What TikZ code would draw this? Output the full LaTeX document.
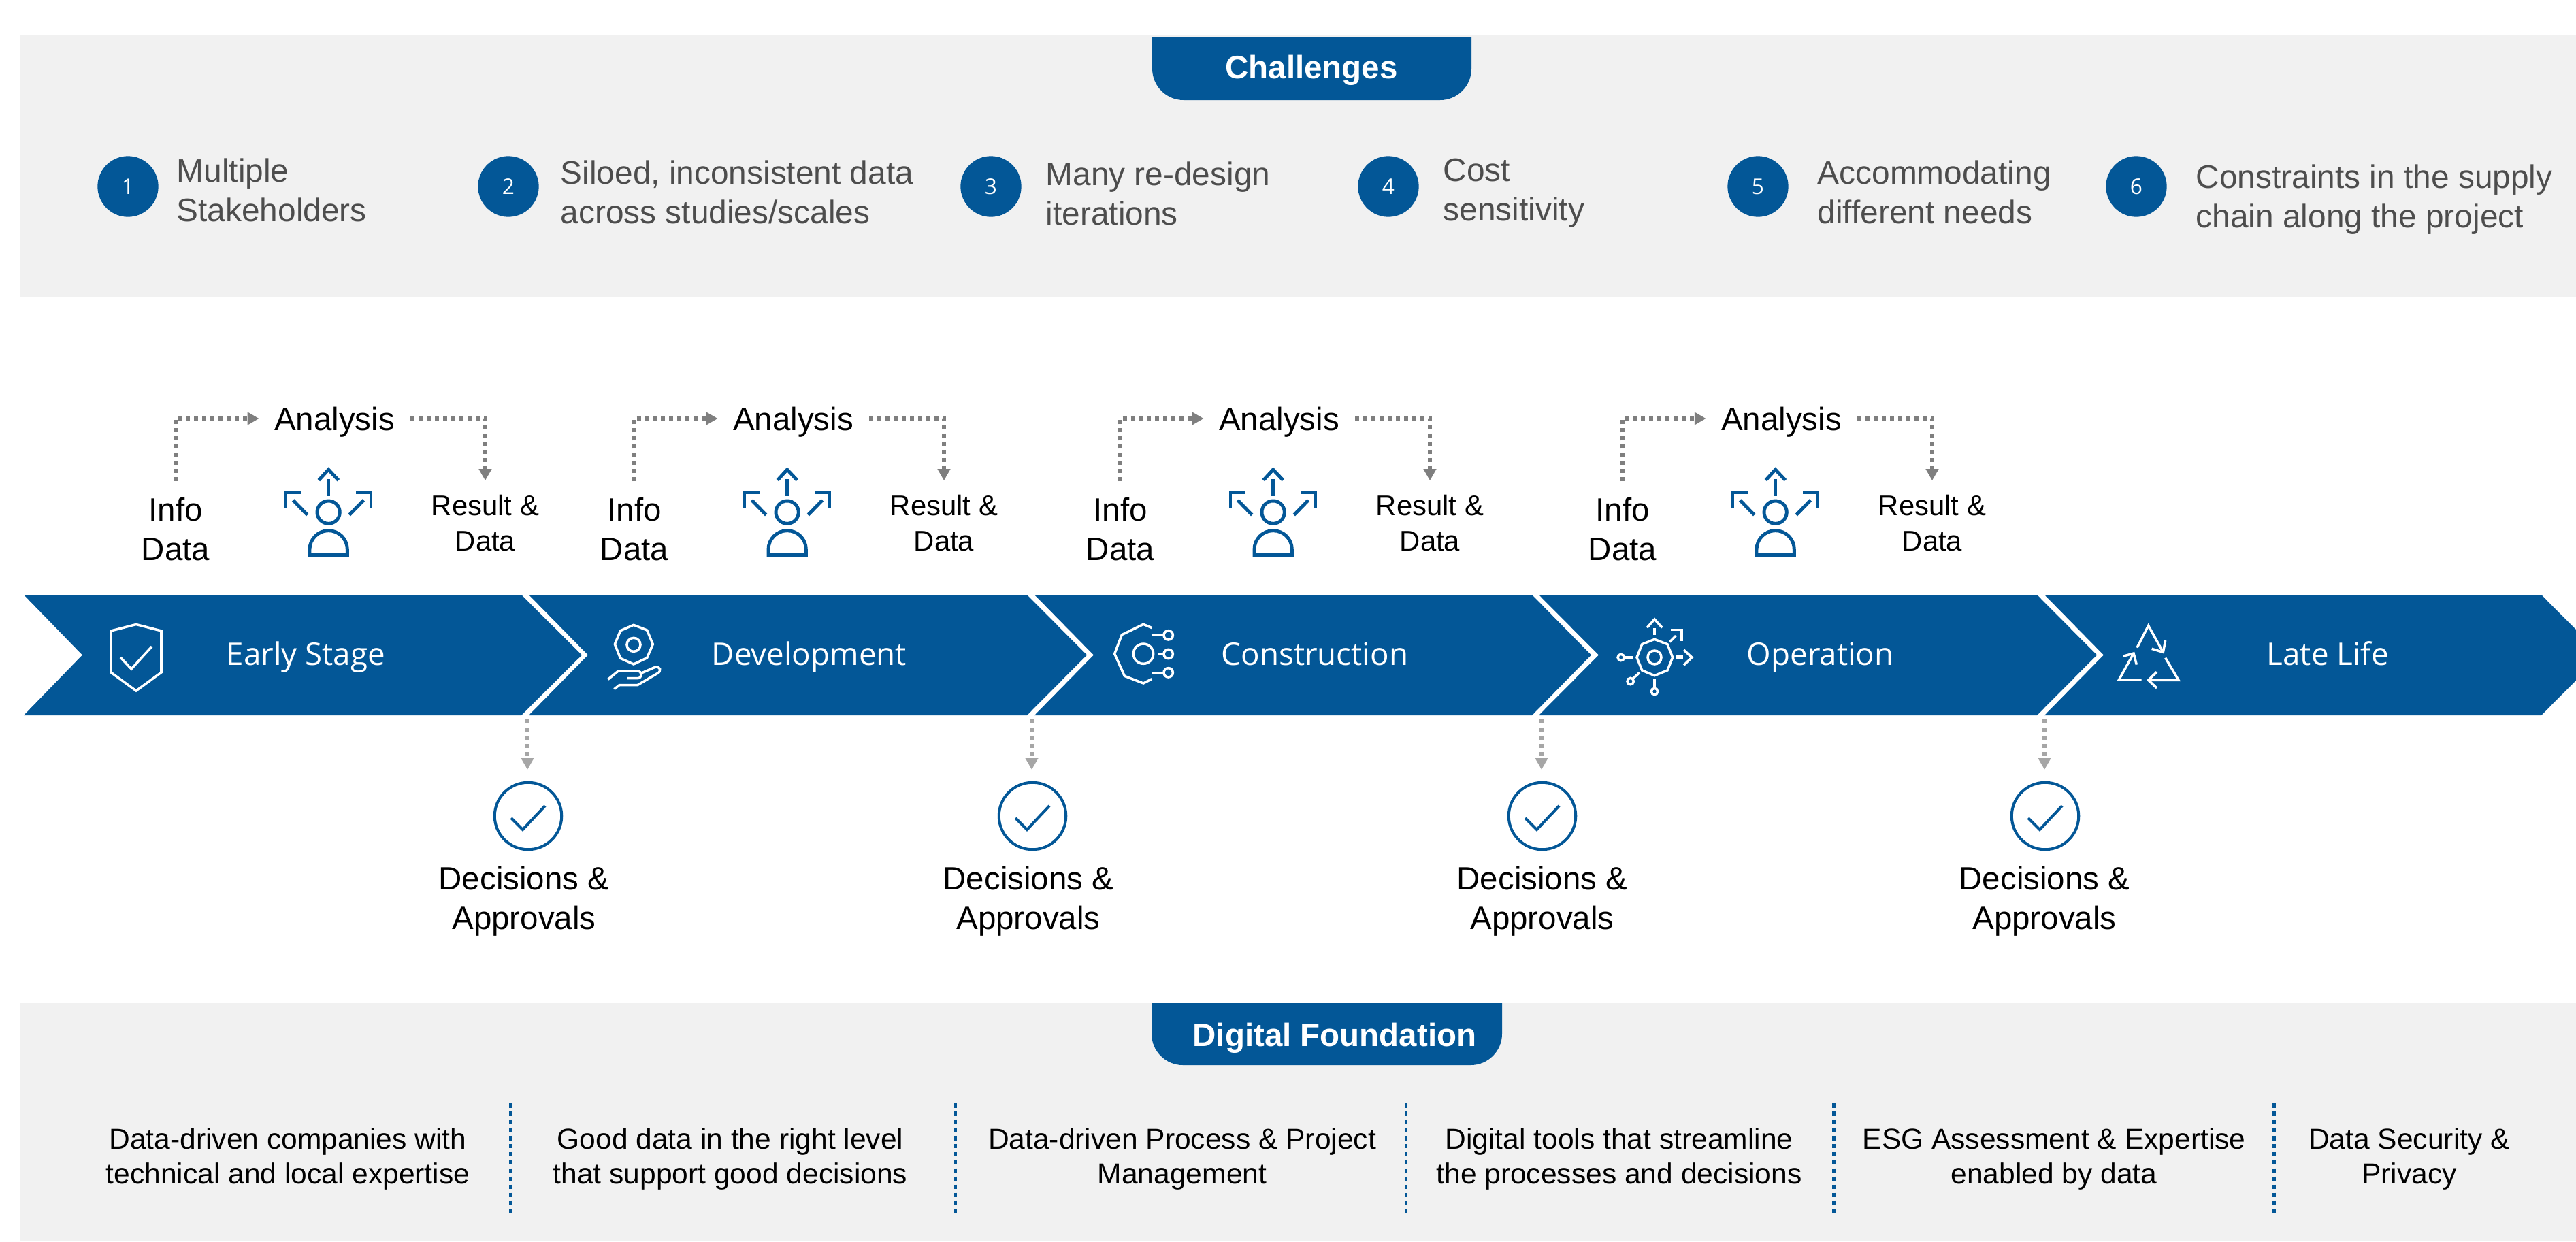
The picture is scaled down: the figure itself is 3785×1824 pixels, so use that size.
\documentclass[tikz,border=0pt]{standalone}
\usepackage{fontspec}
\setmainfont{Liberation Sans}
\newfontfamily\chevfont{Open Sans}
\usetikzlibrary{arrows.meta}
\definecolor{bluemain}{HTML}{035797}
\definecolor{bandgrey}{HTML}{F1F1F1}
\definecolor{itemgrey}{HTML}{4D4D4D}
\definecolor{dotdark}{HTML}{7F7F7F}
\definecolor{dotlight}{HTML}{A6A6A6}
\tikzset{
  band/.style={fill=bandgrey,draw=none},
  tab/.style={fill=bluemain,draw=none},
  chev/.style={fill=bluemain,draw=none},
  lblbase/.style={inner sep=0pt,yshift=10pt,execute at begin node={\rule{0pt}{10pt}}},
  lblc/.style={lblbase,anchor=north,align=center},
  lbll/.style={lblbase,anchor=north west,align=left},
  big/.style={font=\fontsize{13.5}{16.5}\selectfont},
  small/.style={font=\fontsize{11.9}{14.8}\selectfont},
  found/.style={font=\fontsize{12.1}{14.5}\selectfont},
  title/.style={lblc,text=white,font=\fontsize{13.5}{16.5}\selectfont\bfseries},
  item/.style={lbll,text=itemgrey,font=\fontsize{13.6}{16.5}\selectfont},
  numdot/.style={circle,fill=bluemain,minimum size=25.4pt,inner sep=0pt,text=white,font=\chevfont\fontsize{9}{11}\selectfont},
  chevtext/.style={lbll,text=white,font=\chevfont\fontsize{13}{15}\selectfont},
  anatext/.style={inner sep=0pt,text height=13pt,text depth=3.33pt,big},
  flowplain/.style={draw=dotdark,line width=1.7pt,dash pattern=on 1.7pt off 1.7pt},
  tipflow/.style={-{Triangle[width=5.1pt,length=4.8pt,fill=dotdark]}},
  down/.style={draw=dotlight,line width=1.7pt,dash pattern=on 1.7pt off 1.7pt,-{Triangle[width=5.1pt,length=4.8pt,fill=dotlight]}},
  divider/.style={draw=bluemain,line width=1.4pt,dash pattern=on 1.9pt off 1.5pt},
  checkring/.style={circle,draw=bluemain,line width=1.15pt,minimum size=28pt,inner sep=0pt},
  iconw/.style={draw=white,line width=1pt,line join=miter},
  iconb/.style={draw=bluemain,line width=1.4pt,line join=miter},
}
\begin{document}
\begin{tikzpicture}[x=0.01cm,y=-0.01cm]
\useasboundingbox (0,0) rectangle (3785,1824);
\clip (0,0) rectangle (3785,1824);
% bands
\fill[band] (30,52) rectangle (3785,436);
\fill[band] (30,1474) rectangle (3785,1823);
% tabs
\fill[tab] (1693,55) -- (1693,101) arc[start angle=180,end angle=90,radius=46] -- (2116,147) arc[start angle=90,end angle=0,radius=46] -- (2162,55) -- cycle;
\fill[tab] (1692,1474) -- (1692,1519) arc[start angle=180,end angle=90,radius=46] -- (2161,1565) arc[start angle=90,end angle=0,radius=46] -- (2207,1474) -- cycle;
\node[title] (tchal) at (1927,115) {Challenges};
\node[title] (tdig) at (1961,1537) {Digital Foundation};
% challenges
\foreach \i/\x/\tx/\b/\txt in {
 1/188/259/267.5/{Multiple\\Stakeholders},
 2/747/823/270.5/{Siloed, inconsistent data\\across studies/scales},
 3/1456/1536/272.5/{Many re-design\\iterations},
 4/2040/2120/267.5/{Cost\\sensitivity},
 5/2583/2670/270.5/{Accommodating\\different needs},
 6/3139/3226/276.5/{Constraints in the supply\\chain along the project}}{
  \node[numdot] (num\i) at (\x,274) {\i};
  \node[item] (item\i) at (\tx,\b) {\txt};
}
% chevrons
\fill[chev] (35,874) -- (766,874) -- (855,962.5) -- (766,1051) -- (35,1051) -- (121,962.5) -- cycle;
\fill[chev] (777,874) -- (1509,874) -- (1597,962.5) -- (1509,1051) -- (777,1051) -- (864,962.5) -- cycle;
\fill[chev] (1520,874) -- (2251,874) -- (2338,962.5) -- (2251,1051) -- (1520,1051) -- (1607,962.5) -- cycle;
\fill[chev] (2261,874) -- (2993,874) -- (3081,962.5) -- (2993,1051) -- (2261,1051) -- (2349,962.5) -- cycle;
\fill[chev] (3004,874) -- (3734,874) -- (3822,962.5) -- (3734,1051) -- (3004,1051) -- (3091,962.5) -- cycle;
\node[chevtext] (early) at (332,977) {Early Stage};
\node[chevtext] (devel) at (1045,977) {Development};
\node[chevtext] (constr) at (1794,977) {Construction};
\node[chevtext] (oper) at (2566,977) {Operation};
\node[chevtext] (late) at (3330,977) {Late Life};
% analysis groups
\foreach \s/\n in {0/a,674/b,1388/c,2126/d}{
 \begin{scope}[shift={(\s,0)}]
  \node[lblc,big] (info\n) at (258,765.5) {Info\\Data};
  \node[anatext] (ana\n) at (491.5,615) {Analysis};
  \node[lblc,small] (res\n) at (713,762) {Result \&\\Data};
  \draw[flowplain,tipflow,shorten <=6.6pt,shorten >=6.2pt] (info\n.north) |- (ana\n.west);
  \draw[flowplain,tipflow,shorten <=6.5pt,shorten >=5.9pt] (ana\n.east) -| (res\n.north);
 \end{scope}
 \begin{scope}[shift={(380+\s,670)},scale=0.3333]
  \draw[iconb] (265,107) -- (308,60) -- (352,107);
  \draw[iconb] (308,102) -- (308,178);
  \draw[iconb] (120,228) -- (120,162) -- (185,162);
  \draw[iconb] (152,195) -- (215,260);
  \draw[iconb] (430,162) -- (495,162) -- (495,228);
  \draw[iconb] (463,195) -- (400,260);
  \draw[iconb] (308,248) circle[radius=50];
  \draw[iconb] (225,437) -- (225,412) arc[start angle=180,end angle=360,radius=83] -- (391,437) -- cycle;
 \end{scope}
}
% decisions
\foreach \n/\gx/\cx/\tx in {a/775/776/770,b/1516/1517/1511,c/2265/2266/2266,d/3004/3005/3004}{
  \coordinate (g\n) at (\gx,1057);
  \node[checkring] (ring\n) at (\cx,1199) {};
  \draw[down,shorten >=4.8pt] (g\n) -- (g\n |- ring\n.north);
  \draw[draw=bluemain,line width=1.15pt] (\cx-25,1202) -- (\cx-8,1219) -- (\cx+25,1184);
  \node[lblc,big] (dec\n) at (\tx,1307.5) {Decisions \&\\Approvals};
}
% icons: shield
\draw[iconw] (200,917.5) -- (163,927) -- (163,988) -- (200,1015) -- (237,988) -- (237,927) -- cycle;
\draw[iconw] (177,966) -- (193,983) -- (223,950);
% development
\begin{scope}[shift={(860,890)},scale=0.3333]
 \draw[iconw] (213,85) -- (272,108) -- (298,170) -- (272,230) -- (213,258) -- (155,232) -- (130,170) -- (155,110) -- cycle;
 \draw[iconw] (213,172) circle[radius=30];
 \draw[iconw] (100,325) -- (145,288) -- (230,288) .. controls (252,288) and (252,320) .. (230,320) -- (185,320);
 \draw[iconw] (245,298) -- (305,272) .. controls (330,262) and (340,290) .. (315,300) -- (230,350) -- (150,350) -- (127,368);
\end{scope}
% construction
\begin{scope}[shift={(1620,890)},scale=0.3333]
 \draw[iconw] (218,98) -- (180,82) -- (85,128) -- (53,212) -- (97,310) -- (180,342) -- (217,323);
 \draw[iconw] (180,212) circle[radius=44];
 \draw[iconw] (215,130) -- (270,130);
 \draw[iconw] (290,130) circle[radius=20];
 \draw[iconw] (245,213) -- (270,213);
 \draw[iconw] (290,213) circle[radius=20];
 \draw[iconw] (217,295) -- (270,295);
 \draw[iconw] (290,295) circle[radius=20];
\end{scope}
% operation
\begin{scope}[shift={(2360,890)},scale=0.3333]
 \draw[iconw] (213,148) -- (270,170) -- (293,228) -- (270,285) -- (213,308) -- (158,285) -- (135,228) -- (158,170) -- cycle;
 \draw[iconw] (213,228) circle[radius=30];
 \draw[iconw] (180,97) -- (213,60) -- (247,97);
 \draw[iconw,line width=1.4pt] (213,100) -- (213,130);
 \draw[iconw] (285,107) -- (333,107) -- (333,157);
 \draw[iconw] (280,160) -- (307,133);
 \draw[iconw,line width=1.4pt] (307,227) -- (338,227);
 \draw[iconw] (342,195) -- (378,228) -- (342,262);
 \draw[iconw] (65,228) circle[radius=14];
 \draw[iconw] (80,228) -- (120,228);
 \draw[iconw] (107,333) circle[radius=14];
 \draw[iconw] (117,322) -- (147,295);
 \draw[iconw] (213,378) circle[radius=14];
 \draw[iconw] (213,322) -- (213,364);
\end{scope}
% late life
\begin{scope}[shift={(3100,900)},scale=0.3333]
 \draw[iconw] (120,155) -- (170,58) -- (235,175);
 \draw[iconw] (185,160) -- (235,175) -- (245,123);
 \draw[iconw] (140,297) -- (40,297) -- (105,180);
 \draw[iconw] (58,193) -- (105,180) -- (118,230);
 \draw[iconw] (245,200) -- (303,298) -- (170,298);
 \draw[iconw] (207,262) -- (170,298) -- (207,333);
\end{scope}
% foundation
\foreach \i/\x/\txt in {
 1/423/{Data-driven companies with\\technical and local expertise},
 2/1073/{Good data in the right level\\that support good decisions},
 3/1737/{Data-driven Process \& Project\\Management},
 4/2379/{Digital tools that streamline\\the processes and decisions},
 5/3018/{ESG Assessment \& Expertise\\enabled by data},
 6/3540/{Data Security \&\\Privacy}}{
  \node[lblc,found] (found\i) at (\x,1692) {\txt};
}
\foreach \i/\x in {1/750,2/1404,3/2066,4/2694,5/3341}{
  \coordinate (dt\i) at (\x,1621);
  \coordinate (db\i) at (\x,1783);
  \draw[divider] (dt\i) -- (db\i);
}
\end{tikzpicture}
\end{document}
